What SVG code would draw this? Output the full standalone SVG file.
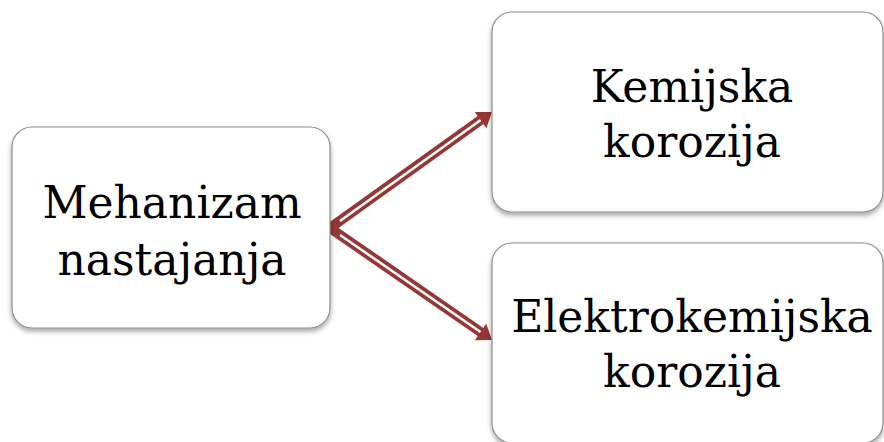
<svg xmlns="http://www.w3.org/2000/svg" width="884" height="442" viewBox="0 0 884 442">
<defs>
<filter id="sh" x="-10%" y="-10%" width="120%" height="130%">
<feDropShadow dx="0" dy="3" stdDeviation="2.5" flood-color="#000" flood-opacity="0.35"/>
</filter>
</defs>
<style>
.box{fill:#fff;stroke:#8c8c8c;stroke-width:1.2;filter:url(#sh)}
.t{font-family:"DejaVu Serif","Liberation Serif",serif;font-size:44px;fill:#000;text-anchor:middle}
.red{fill:none;stroke:#953735;stroke-width:10;stroke-linejoin:miter;stroke-miterlimit:10}
.gap{fill:none;stroke:#fff;stroke-width:2.5}
.head{fill:#953735}
</style>
<g id="connectors">
<path class="red" d="M482,119 L330,228 L482,333"/>
<path class="gap" d="M340,221 L487,115.5"/>
<path class="gap" d="M340,235 L487,336.5"/>
<polygon class="head" points="492,112 486.4,128.2 474.8,112"/>
<polygon class="head" points="492,340 474.8,340.2 486.2,323.8"/>
</g>
<g id="node-mehanizam">
<rect class="box" x="12" y="127" width="318" height="201" rx="20"/>
<text class="t" x="172" y="218">Mehanizam</text>
<text class="t" x="172" y="275">nastajanja</text>
</g>
<g id="node-kemijska">
<rect class="box" x="492" y="12" width="391" height="200" rx="20"/>
<text class="t" x="692" y="102">Kemijska</text>
<text class="t" x="692" y="157">korozija</text>
</g>
<g id="node-elektrokemijska">
<rect class="box" x="492" y="243" width="391" height="200" rx="20"/>
<text class="t" x="692" y="332">Elektrokemijska</text>
<text class="t" x="692" y="387">korozija</text>
</g>
</svg>
